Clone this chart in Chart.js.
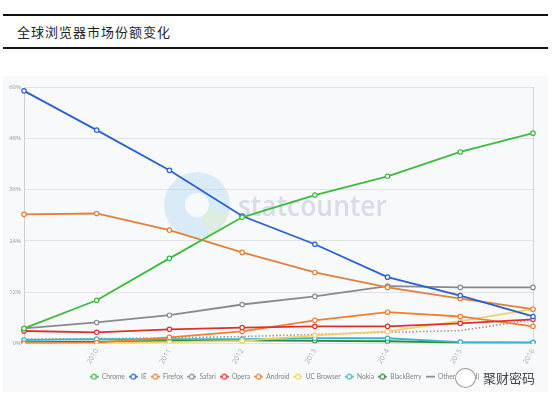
<!DOCTYPE html>
<html>
<head>
<meta charset="utf-8">
<script src="https://cdn.jsdelivr.net/npm/chart.js@4.4.1/dist/chart.umd.min.js"></script>
<style>
  html, body { margin:0; padding:0; background:#fff; }
  body { width:552px; height:399px; position:relative; overflow:hidden; font-family:"Noto Sans CJK SC", sans-serif; }
  .rule { position:absolute; left:3px; width:545px; height:2px; background:#111; }
  #title { position:absolute; left:17px; top:22px; font-size:13px; color:#222; letter-spacing:1px; }
  #bg { position:absolute; left:3px; top:76px; width:545px; height:316px; background:#f8f9fb; }
  #wrap { position:absolute; left:0; top:60px; width:552px; height:339px; }
  #wm { position:absolute; left:455px; top:368px; font-size:13px; line-height:20px; color:#444; display:flex; align-items:center; }
  #wm .ic { width:19px; height:18px; border:1px solid #999; border-radius:50%; margin-right:7px; background:#fff; }
</style>
</head>
<body>
<div class="rule" style="top:14px"></div>
<div id="title">全球浏览器市场份额变化</div>
<div class="rule" style="top:47px"></div>
<div id="bg"></div>
<div id="wrap"><canvas id="c"></canvas></div>
<div id="wm"><span class="ic"></span>聚财密码</div>
<script>
const categories = ['2009', '2010', '2011', '2012', '2013', '2014', '2015', '2016'];
const yTicks = [0, 12, 24, 36, 48, 60];
const chrome     = [3.5, 10.1, 19.9, 29.5, 34.7, 39.1, 44.8, 49.2];
const ie         = [59.1, 49.9, 40.5, 29.8, 23.2, 15.5, 11.2, 6.3];
const firefox    = [30.2, 30.4, 26.5, 21.3, 16.6, 13.1, 10.5, 8.0];
const safari     = [3.5, 4.9, 6.6, 9.1, 11.0, 13.4, 13.1, 13.1];
const opera      = [2.9, 2.6, 3.3, 3.7, 4.0, 4.0, 4.7, 5.6];
const android    = [0.0, 0.2, 1.4, 2.8, 5.4, 7.3, 6.3, 4.0];
const ucBrowser  = [0.0, 0.1, 0.3, 0.6, 1.9, 2.8, 5.2, 8.0];
const nokia      = [0.8, 1.0, 1.0, 1.0, 1.2, 1.2, 0.3, 0.2];
const blackberry = [0.3, 0.4, 0.6, 0.7, 0.6, 0.5, 0.2, 0.2];
const other      = [1.0, 1.1, 1.3, 1.6, 2.1, 2.6, 3.0, 5.5];

const seriesNames = ['Chrome', 'IE', 'Firefox', 'Safari', 'Opera', 'Android', 'UC Browser', 'Nokia', 'BlackBerry', 'Other (dotted)'];
const seriesData = [chrome, ie, firefox, safari, opera, android, ucBrowser, nokia, blackberry, other];
const seriesColors = ['#3cbc3c', '#2a5fd0', '#e0803a', '#8a8a8a', '#e0302e', '#f08030', '#f2d266', '#3ab4cc', '#2e8a3c', '#9a9a9a'];

function legendIcon(color, withCircle) {
  const cv = document.createElement('canvas');
  cv.width = 9; cv.height = 7;
  const g = cv.getContext('2d');
  g.strokeStyle = color; g.lineWidth = 1.5;
  g.beginPath(); g.moveTo(0, 3.5); g.lineTo(9, 3.5); g.stroke();
  if (withCircle) {
    g.beginPath(); g.arc(4.5, 3.5, 2.4, 0, Math.PI * 2);
    g.fillStyle = '#fff'; g.fill();
    g.lineWidth = 1.2; g.stroke();
  }
  return cv;
}
const icons = seriesColors.map((c, i) => legendIcon(i === 9 ? '#777' : c, i !== 9));

const datasets = seriesNames.map((name, i) => {
  const isOther = i === 9;
  return {
    label: name,
    data: seriesData[i],
    borderColor: seriesColors[i],
    backgroundColor: '#fff',
    borderWidth: isOther ? 1.6 : 1.8,
    borderDash: isOther ? [1.5, 2] : [],
    pointRadius: isOther ? 0 : 2.2,
    pointBackgroundColor: '#fff',
    pointBorderColor: seriesColors[i],
    pointBorderWidth: 1.2,
    fill: false,
    tension: 0
  };
});

const watermark = {
  id: 'watermark',
  beforeDatasetsDraw(chart) {
    const ctx = chart.ctx;
    ctx.save();
    const cx = 197, cy = 145, ro = 33, ri = 12;
    ctx.globalAlpha = 0.28;
    ctx.fillStyle = '#8cc8f0';
    ctx.beginPath(); ctx.arc(cx, cy, ro, 0, Math.PI * 2); ctx.arc(cx, cy, ri, 0, Math.PI * 2, true); ctx.fill();
    ctx.fillStyle = '#e8f0a0';
    ctx.beginPath(); ctx.moveTo(cx + ri * Math.cos(0.3), cy + ri * Math.sin(0.3));
    ctx.arc(cx, cy, ro, 0.3, 1.2); ctx.arc(cx, cy, ri, 1.2, 0.3, true); ctx.fill();
    ctx.globalAlpha = 0.5;
    ctx.fillStyle = '#b4c0d6';
    ctx.textAlign = 'left';
    ctx.textBaseline = 'alphabetic';
    ctx.font = '600 28px "Open Sans", sans-serif';
    const w = ctx.measureText('statcounter').width;
    ctx.translate(238, 156);
    ctx.scale(149 / w, 1);
    ctx.fillText('statcounter', 0, 0);
    ctx.restore();
  }
};

const legendShift = {
  id: 'legendShift',
  afterLayout(chart) {
    const lg = chart.legend;
    if (!lg) return;
    const target = 89.5 - 4; // first icon left edge minus legend padding
    const d = target - lg.left;
    lg.left += d; lg.right += d;
  }
};

new Chart(document.getElementById('c'), {
  type: 'line',
  data: { labels: categories, datasets },
  plugins: [watermark, legendShift],
  options: {
    responsive: true,
    maintainAspectRatio: false,
    animation: false,
    layout: { padding: { top: 27, right: 19, left: 0, bottom: 9 } },
    plugins: {
      tooltip: { enabled: false },
      legend: {
        position: 'bottom',
        align: 'start',
        labels: {
          usePointStyle: true,
          pointStyleWidth: 9,
          boxHeight: 7,
          padding: 4,
          color: '#808080',
          font: { family: 'Lato, sans-serif', size: 6.6 },
          generateLabels(chart) {
            const items = Chart.defaults.plugins.legend.labels.generateLabels(chart);
            items.forEach((it, i) => { it.pointStyle = icons[i]; it.strokeStyle = seriesColors[i]; });
            return items;
          }
        }
      }
    },
    scales: {
      x: {
        afterFit(scale) { scale.height = 26; },
        grid: {
          drawTicks: false,
          color: (c) => (c.index === categories.length - 1 ? '#d4d4d4' : 'transparent')
        },
        border: { display: false },
        ticks: {
          minRotation: 60, maxRotation: 60, padding: 4,
          color: '#aaa',
          font: { family: '"Open Sans", sans-serif', size: 7 },
          callback(v, i) { return i === 0 ? '' : categories[i]; }
        }
      },
      y: {
        min: 0, max: 60,
        afterFit(scale) { scale.width = 24; },
        afterBuildTicks(scale) { scale.ticks = yTicks.map(v => ({ value: v })); },
        grid: { drawTicks: false, color: '#e2e2e2' },
        border: { display: true, color: '#cfcfcf' },
        ticks: {
          padding: 3,
          color: '#999',
          font: { family: '"Open Sans", sans-serif', size: 6 },
          callback(v) { return v + '%'; }
        }
      }
    }
  }
});
</script>
</body>
</html>
